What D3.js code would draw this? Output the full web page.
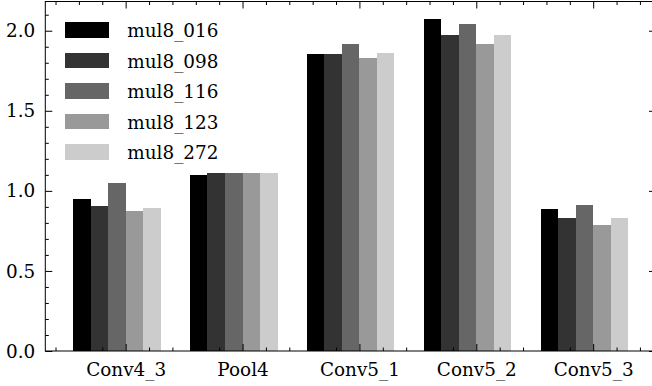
<!DOCTYPE html>
<html>
<head>
<meta charset="utf-8">
<script src="https://cdn.jsdelivr.net/npm/d3@7"></script>
<style>
html,body{margin:0;padding:0;background:#fff;overflow:hidden;}
svg{display:block;}
</style>
</head>
<body>
<svg id="chart" width="652" height="386"></svg>
<script>
const categories = ["Conv4_3", "Pool4", "Conv5_1", "Conv5_2", "Conv5_3"];
const seriesNames = ["mul8_016", "mul8_098", "mul8_116", "mul8_123", "mul8_272"];
const mul8_016 = [0.949, 1.099, 1.854, 2.073, 0.887];
const mul8_098 = [0.905, 1.112, 1.854, 1.973, 0.831];
const mul8_116 = [1.049, 1.112, 1.917, 2.042, 0.911];
const mul8_123 = [0.874, 1.112, 1.829, 1.917, 0.787];
const mul8_272 = [0.893, 1.112, 1.861, 1.973, 0.831];
const colors = ["#000000", "#333333", "#666666", "#999999", "#cccccc"];
const yTickValues = [0.0, 0.5, 1.0, 1.5, 2.0];
const yTickLabels = ["0.0", "0.5", "1.0", "1.5", "2.0"];

const seriesValues = [mul8_016, mul8_098, mul8_116, mul8_123, mul8_272];

const FONT = "DejaVu Serif";
const fontSize = 18.4;

const svg = d3.select("#chart");
const L = 45.3, R = 656, T = 1.5, B = 351;
const x = d3.scaleLinear().domain([-0.6875, 4.5375]).range([L, R]);
const y = d3.scaleLinear().domain([0, 2.1825]).range([B, T]);
const barW = 0.15;

// bars
seriesValues.forEach((vals, i) => {
  svg.append("g").selectAll("rect").data(vals).join("rect")
    .attr("x", (d, j) => x(j - 0.45 + barW * i))
    .attr("width", (d, j) => x(j - 0.45 + barW * (i + 1)) - x(j - 0.45 + barW * i))
    .attr("y", d => y(d))
    .attr("height", d => y(0) - y(d))
    .attr("fill", colors[i])
    .attr("shape-rendering", "crispEdges");
});

const xMajor = categories.map((c, i) => i);
const xMinor = d3.range(-3, 23).map(k => k * 0.2).filter(v => Math.abs(v - Math.round(v)) > 1e-6 && v > -0.6875 && v < 4.5375);
const yMinor = d3.range(1, 22).map(k => k * 0.1).filter(v => Math.abs(v * 2 - Math.round(v * 2)) > 1e-6);

const MAJ = 7, MIN = 3.5;

function styleAxis(g) {
  g.select(".domain").remove();
  g.attr("font-family", FONT).attr("font-size", fontSize);
  g.selectAll("line").attr("stroke", "#000").attr("stroke-width", 1);
  g.selectAll("text").attr("fill", "#000");
}

// bottom axis
svg.append("g").attr("transform", `translate(0,${B})`)
  .call(d3.axisBottom(x).tickValues(xMajor).tickFormat((d, i) => categories[i]).tickSizeInner(-MAJ).tickSizeOuter(0).tickPadding(0))
  .call(styleAxis)
  .call(g => g.selectAll("text").attr("y", 25).attr("dy", null));
svg.append("g").attr("transform", `translate(0,${B})`)
  .call(d3.axisBottom(x).tickValues(xMinor).tickFormat("").tickSizeInner(-MIN).tickSizeOuter(0))
  .call(styleAxis);
// top axis
svg.append("g").attr("transform", `translate(0,${T})`)
  .call(d3.axisTop(x).tickValues(xMajor).tickFormat("").tickSizeInner(-MAJ).tickSizeOuter(0))
  .call(styleAxis);
svg.append("g").attr("transform", `translate(0,${T})`)
  .call(d3.axisTop(x).tickValues(xMinor).tickFormat("").tickSizeInner(-MIN).tickSizeOuter(0))
  .call(styleAxis);
// left axis
svg.append("g").attr("transform", `translate(${L},0)`)
  .call(d3.axisLeft(y).tickValues(yTickValues).tickFormat((d, i) => yTickLabels[i]).tickSizeInner(-MAJ).tickSizeOuter(0).tickPadding(0))
  .call(styleAxis)
  .call(g => g.selectAll("text").attr("x", -10).attr("dy", "0.33em"));
svg.append("g").attr("transform", `translate(${L},0)`)
  .call(d3.axisLeft(y).tickValues(yMinor).tickFormat("").tickSizeInner(-MIN).tickSizeOuter(0))
  .call(styleAxis);
// right axis
svg.append("g").attr("transform", `translate(${R},0)`)
  .call(d3.axisRight(y).tickValues(yTickValues).tickFormat("").tickSizeInner(-MAJ).tickSizeOuter(0))
  .call(styleAxis);
svg.append("g").attr("transform", `translate(${R},0)`)
  .call(d3.axisRight(y).tickValues(yMinor).tickFormat("").tickSizeInner(-MIN).tickSizeOuter(0))
  .call(styleAxis);

// spines
svg.append("rect").attr("x", L).attr("y", T).attr("width", R - L).attr("height", B - T)
  .attr("fill", "none").attr("stroke", "#000").attr("stroke-width", 1);

// legend
const legend = svg.append("g").attr("font-family", FONT).attr("font-size", fontSize);
const rowY0 = 30, rowStep = 30.5;
seriesNames.forEach((name, i) => {
  const cy = rowY0 + i * rowStep;
  legend.append("rect").attr("x", 65).attr("y", cy - 7.7).attr("width", 44).attr("height", 15.4)
    .attr("fill", colors[i]).attr("shape-rendering", "crispEdges");
  legend.append("text").attr("x", 127.3).attr("y", cy + 7.2).attr("fill", "#000").text(name);
});
</script>
</body>
</html>
